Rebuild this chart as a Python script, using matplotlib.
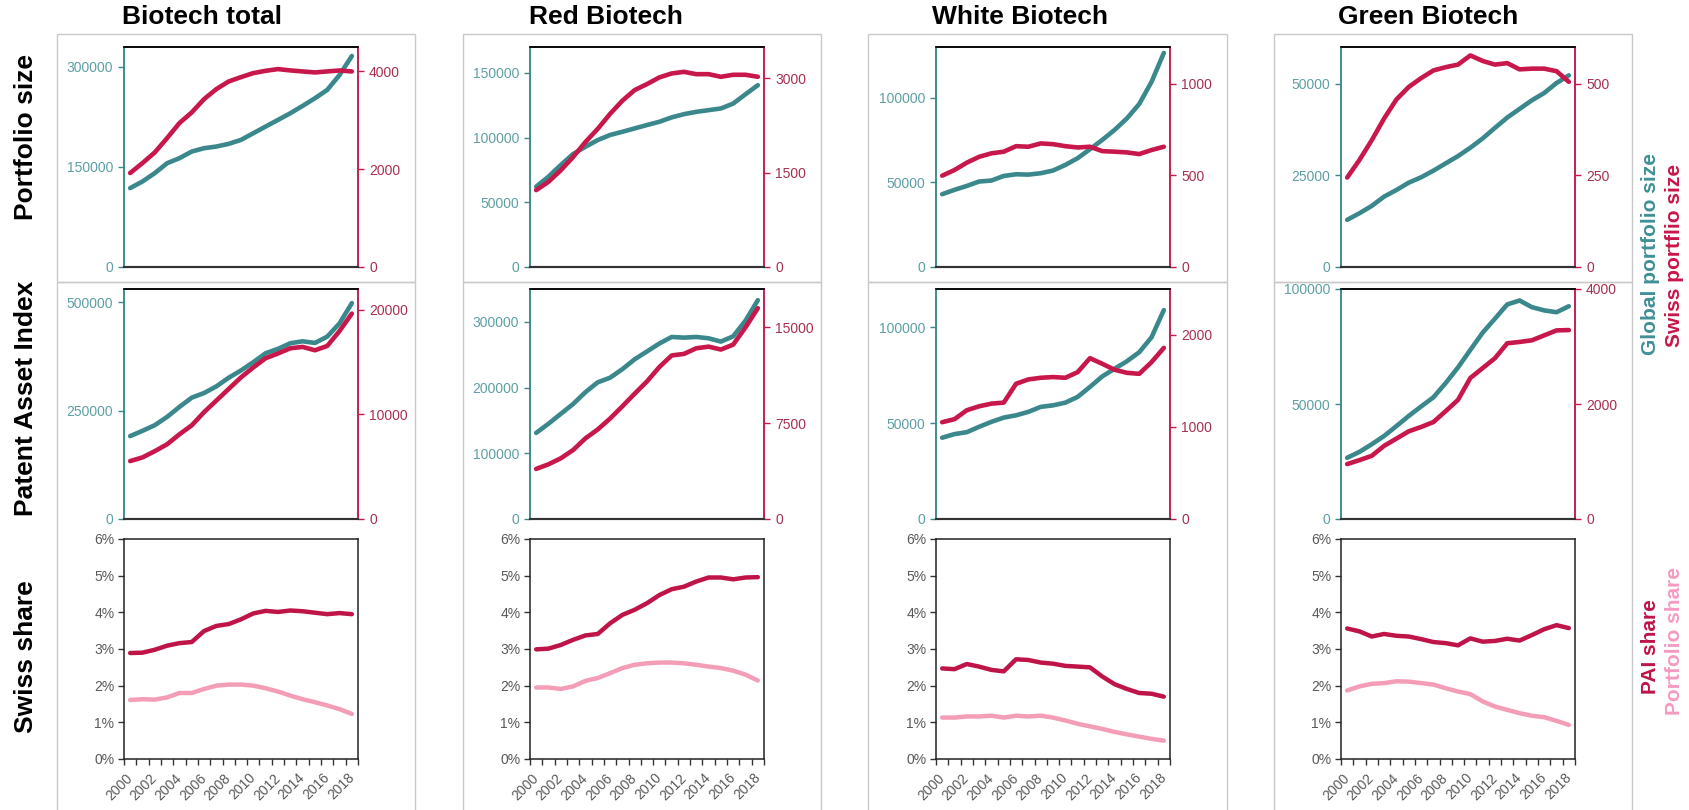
import matplotlib
matplotlib.use('Agg')
import matplotlib.pyplot as plt
from matplotlib.patches import Rectangle
from matplotlib.ticker import FuncFormatter, MultipleLocator, FixedLocator

plt.rcParams['font.family'] = ['Liberation Sans', 'DejaVu Sans']

years = list(range(2000, 2019))
columns = ['Biotech total', 'Red Biotech', 'White Biotech', 'Green Biotech']
row_names = ['Portfolio size', 'Patent Asset Index', 'Swiss share']

# portfolio size: global (left axis) and swiss (right axis)
total_port_global = [118300, 128300, 140800, 155700, 163200, 173200, 178200, 180700, 184700, 190700,
                     200700, 210700, 220600, 230600, 241600, 253100, 265600, 288000, 316500]
total_port_swiss = [1922, 2126, 2344, 2637, 2944, 3162, 3434, 3639, 3795, 3884,
                    3966, 4013, 4048, 4021, 4000, 3980, 4000, 4020, 4000]
red_port_global = [62100, 69800, 78800, 87300, 92900, 98100, 102000, 104500, 107100, 109700,
                   112200, 115600, 118100, 119900, 121200, 122500, 126300, 133500, 140500]
red_port_swiss = [1223, 1355, 1539, 1750, 1988, 2198, 2436, 2646, 2815, 2910,
                  3016, 3079, 3105, 3068, 3068, 3026, 3058, 3058, 3026]
white_port_global = [43000, 45600, 47900, 50500, 51100, 53800, 54800, 54600, 55400, 57000,
                     60300, 64300, 69600, 75100, 81000, 87800, 96300, 109400, 126500]
white_port_swiss = [498, 529, 569, 601, 620, 629, 659, 656, 674, 670,
                    659, 652, 656, 632, 629, 625, 616, 638, 656]
green_port_global = [12860, 14670, 16670, 19200, 21000, 23000, 24460, 26270, 28260, 30250,
                     32520, 35050, 37950, 40760, 43120, 45470, 47460, 50180, 52270]
green_port_swiss = [244, 292, 346, 405, 457, 491, 515, 536, 545, 552,
                    577, 562, 552, 556, 539, 541, 541, 534, 505]

# patent asset index: global (left axis) and swiss (right axis)
total_pai_global = [191000, 203200, 216200, 235300, 258200, 279600, 290300, 305600, 325500, 342300,
                    361400, 382000, 392000, 405000, 409500, 405700, 420200, 450800, 497400]
total_pai_swiss = [5540, 5890, 6490, 7150, 8100, 8960, 10220, 11330, 12440, 13550,
                   14500, 15380, 15830, 16330, 16460, 16140, 16550, 17980, 19650]
red_pai_global = [131000, 145000, 160000, 175000, 193000, 208000, 215000, 228000, 243000, 255000,
                  267000, 277000, 276000, 277000, 275000, 270000, 278000, 302000, 333000]
red_pai_swiss = [3920, 4280, 4750, 5400, 6310, 7010, 7860, 8820, 9810, 10770,
                 11890, 12800, 12920, 13360, 13490, 13260, 13650, 15000, 16500]
white_pai_global = [42400, 44300, 45300, 48100, 50700, 52900, 54100, 55900, 58500, 59300,
                    60700, 63700, 68900, 74400, 78400, 82300, 87000, 94800, 109000]
white_pai_swiss = [1052, 1085, 1182, 1225, 1254, 1265, 1470, 1517, 1535, 1543,
                   1535, 1596, 1748, 1687, 1622, 1589, 1578, 1705, 1860]
green_pai_global = [26600, 29200, 32500, 36100, 40400, 44800, 48900, 52900, 59100, 65900,
                    73500, 81000, 87100, 93300, 95000, 92100, 90700, 89900, 92500]
green_pai_swiss = [955, 1024, 1099, 1272, 1398, 1525, 1600, 1686, 1876, 2072,
                   2452, 2624, 2797, 3056, 3079, 3108, 3194, 3280, 3286]

# swiss share (%)
total_pai_share = [2.89, 2.90, 2.98, 3.09, 3.16, 3.19, 3.49, 3.63, 3.68, 3.81,
                   3.97, 4.04, 4.01, 4.05, 4.03, 3.99, 3.95, 3.98, 3.95]
total_port_share = [1.61, 1.63, 1.62, 1.68, 1.80, 1.80, 1.91, 2.00, 2.03, 2.03,
                    2.00, 1.93, 1.84, 1.73, 1.63, 1.55, 1.46, 1.36, 1.23]
red_pai_share = [2.99, 3.01, 3.11, 3.25, 3.37, 3.41, 3.70, 3.93, 4.07, 4.25,
                 4.47, 4.63, 4.70, 4.84, 4.95, 4.95, 4.90, 4.95, 4.96]
red_port_share = [1.95, 1.95, 1.91, 1.98, 2.13, 2.21, 2.34, 2.48, 2.57, 2.61,
                  2.63, 2.63, 2.61, 2.57, 2.52, 2.48, 2.41, 2.30, 2.14]
white_pai_share = [2.47, 2.45, 2.59, 2.52, 2.43, 2.39, 2.72, 2.70, 2.63, 2.60,
                   2.54, 2.52, 2.50, 2.25, 2.04, 1.91, 1.80, 1.78, 1.70]
white_port_share = [1.13, 1.13, 1.16, 1.16, 1.18, 1.13, 1.18, 1.16, 1.18, 1.13,
                    1.05, 0.96, 0.89, 0.82, 0.74, 0.67, 0.61, 0.55, 0.50]
green_pai_share = [3.56, 3.48, 3.34, 3.41, 3.36, 3.34, 3.27, 3.19, 3.16, 3.10,
                   3.29, 3.20, 3.22, 3.28, 3.23, 3.38, 3.54, 3.65, 3.57]
green_port_share = [1.87, 1.98, 2.05, 2.07, 2.12, 2.11, 2.07, 2.03, 1.93, 1.84,
                    1.77, 1.57, 1.43, 1.34, 1.25, 1.18, 1.14, 1.04, 0.93]

port_global = [total_port_global, red_port_global, white_port_global, green_port_global]
port_swiss = [total_port_swiss, red_port_swiss, white_port_swiss, green_port_swiss]
pai_global = [total_pai_global, red_pai_global, white_pai_global, green_pai_global]
pai_swiss = [total_pai_swiss, red_pai_swiss, white_pai_swiss, green_pai_swiss]
pai_share = [total_pai_share, red_pai_share, white_pai_share, green_pai_share]
port_share = [total_port_share, red_port_share, white_port_share, green_port_share]

# axis limits and ticks (left, right) per column
port_left = [(330000, [0, 150000, 300000]), (170000, [0, 50000, 100000, 150000]),
             (130000, [0, 50000, 100000]), (60000, [0, 25000, 50000])]
port_right = [(4500, [0, 2000, 4000]), (3500, [0, 1500, 3000]),
              (1200, [0, 500, 1000]), (600, [0, 250, 500])]
pai_left = [(530000, [0, 250000, 500000]), (350000, [0, 100000, 200000, 300000]),
            (120000, [0, 50000, 100000]), (100000, [0, 50000, 100000])]
pai_right = [(22000, [0, 10000, 20000]), (18000, [0, 7500, 15000]),
             (2500, [0, 1000, 2000]), (4000, [0, 2000, 4000])]

TEAL = '#3b888c'
TEAL_TXT = '#5e9fa4'
CRIM = '#c8174a'
CRIM_TXT = '#a8304f'
DARK = '#be1448'
PINK = '#f49db7'
GRAY = '#595959'

W, H = 1690, 810
fig = plt.figure(figsize=(W / 100, H / 100), dpi=100)


def add_ax(x, y, w, h):
    return fig.add_axes([x / W, 1 - (y + h) / H, w / W, h / H])


col_x = [124, 530, 936, 1341]
ax_w = 234
rows_y = [(47, 220), (289, 230), (539, 220)]
box_x = [(57, 415), (463, 821), (868, 1227), (1274, 1632)]
xs = list(range(len(years)))

# grey frames around each column
for x0, x1 in box_x:
    fig.add_artist(Rectangle((x0 / W, 1 - 282 / H), (x1 - x0) / W, 248 / H, transform=fig.transFigure,
                             fill=False, edgecolor='#c9c9c9', lw=1))
    fig.add_artist(Rectangle((x0 / W, 1 - 815 / H), (x1 - x0) / W, 533 / H, transform=fig.transFigure,
                             fill=False, edgecolor='#c9c9c9', lw=1))


def dual(ax, g, s, lim_l, lim_r):
    ax2 = ax.twinx()
    ax.plot(xs, g, color=TEAL, lw=3.3, solid_capstyle='round', zorder=3)
    ax2.plot(xs, s, color=CRIM, lw=3.3, solid_capstyle='round', zorder=3)
    ax.set_xlim(-0.5, len(years) - 0.5)
    ax.set_ylim(0, lim_l[0])
    ax.set_yticks(lim_l[1])
    ax2.set_ylim(0, lim_r[0])
    ax2.set_yticks(lim_r[1])
    ax.set_xticks([])
    ax.tick_params(axis='y', colors=TEAL, labelcolor=TEAL_TXT, length=4, width=1, labelsize=10, pad=4)
    ax2.tick_params(axis='y', colors=CRIM, labelcolor=CRIM_TXT, length=4, width=1, labelsize=10, pad=4)
    for a in (ax, ax2):
        a.spines['left'].set_color(TEAL)
        a.spines['right'].set_color(CRIM)
        a.spines['top'].set_color('black')
        a.spines['bottom'].set_color('#333333')
        for sp in a.spines.values():
            sp.set_linewidth(1.1)
    ax.spines['bottom'].set_linewidth(1.5)
    ax2.spines['bottom'].set_linewidth(1.5)


for c in range(4):
    ax = add_ax(col_x[c], rows_y[0][0], ax_w, rows_y[0][1])
    dual(ax, port_global[c], port_swiss[c], port_left[c], port_right[c])

    ax = add_ax(col_x[c], rows_y[1][0], ax_w, rows_y[1][1])
    dual(ax, pai_global[c], pai_swiss[c], pai_left[c], pai_right[c])

    ax = add_ax(col_x[c], rows_y[2][0], ax_w, rows_y[2][1])
    ax.plot(xs, [v / 100 for v in port_share[c]], color=PINK, lw=3.2, solid_capstyle='round')
    ax.plot(xs, [v / 100 for v in pai_share[c]], color=DARK, lw=3.2, solid_capstyle='round')
    ax.set_xlim(-0.5, len(years) - 0.5)
    ax.set_ylim(0, 0.06)
    ax.yaxis.set_major_locator(MultipleLocator(0.01))
    ax.yaxis.set_major_formatter(FuncFormatter(lambda v, p: f'{v * 100:.0f}%'))
    ax.xaxis.set_major_locator(FixedLocator(xs[::2]))
    ax.set_xticklabels([str(y) for y in years[::2]], rotation=45, ha='right', va='center',
                       rotation_mode='anchor')
    ax.xaxis.set_minor_locator(FixedLocator([i - 0.5 for i in range(len(years) + 1)]))
    ax.tick_params(axis='x', which='major', length=0, pad=12, labelsize=10, labelcolor=GRAY)
    ax.tick_params(axis='x', which='minor', length=4, width=1, color='#333333')
    ax.tick_params(axis='y', length=4, width=1, color='#333333', labelsize=10, labelcolor=GRAY, pad=3)
    for sp in ax.spines.values():
        sp.set_color('#222222')
        sp.set_linewidth(1.1)

# column titles
title_x = [202, 606, 1020, 1428]
for c, name in enumerate(columns):
    fig.text(title_x[c] / W, 1 - 17 / H, name, ha='center', va='center', fontsize=19, fontweight='bold')

# row titles
row_y = [137, 398, 657]
for r, name in enumerate(row_names):
    fig.text(26 / W, 1 - row_y[r] / H, name, ha='center', va='center', rotation=90,
             fontsize=19, fontweight='bold')

# side legends
fig.text(1651 / W, 1 - 254 / H, 'Global portfolio size', color='#3f9095', rotation=90,
         ha='center', va='center', fontsize=15, fontweight='bold')
fig.text(1675 / W, 1 - 255 / H, 'Swiss portflio size', color=CRIM, rotation=90,
         ha='center', va='center', fontsize=15, fontweight='bold')
fig.text(1651 / W, 1 - 647 / H, 'PAI share', color=DARK, rotation=90,
         ha='center', va='center', fontsize=15, fontweight='bold')
fig.text(1675 / W, 1 - 641 / H, 'Portfolio share', color='#f59ac2', rotation=90,
         ha='center', va='center', fontsize=15, fontweight='bold')

fig.savefig('out.png', dpi=100)
